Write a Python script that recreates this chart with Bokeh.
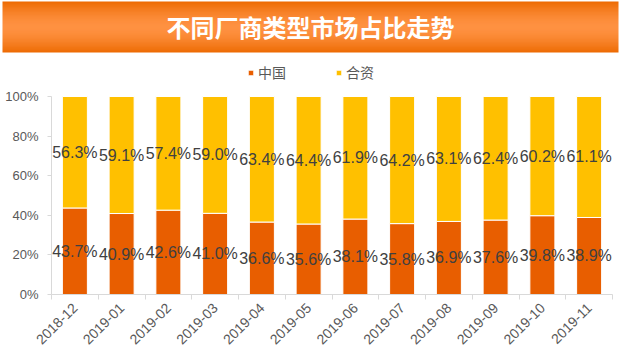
import math
import numpy as np
from bokeh.plotting import figure
from bokeh.layouts import column
from bokeh.models import (ColumnDataSource, Range1d, FixedTicker, NumeralTickFormatter,
                          Legend, LegendItem)
from bokeh.core.properties import value
from bokeh.embed import file_html
from bokeh.resources import INLINE

# ---- data ----
months = ["2018-12", "2019-01", "2019-02", "2019-03", "2019-04", "2019-05",
          "2019-06", "2019-07", "2019-08", "2019-09", "2019-10", "2019-11"]
china = [43.7, 40.9, 42.6, 41.0, 36.6, 35.6, 38.1, 35.8, 36.9, 37.6, 39.8, 38.9]
joint = [56.3, 59.1, 57.4, 59.0, 63.4, 64.4, 61.9, 64.2, 63.1, 62.4, 60.2, 61.1]
series_names = ["中国", "合资"]
title_text = "不同厂商类型市场占比走势"
y_ticks = [0, 0.2, 0.4, 0.6, 0.8, 1.0]

C_CN = "#E85E00"
C_JV = "#FFC000"
LABEL_FONT = "Liberation Sans"

# ---- title band ----
W = 620
TH = 54
tp = figure(width=W, height=TH, x_range=Range1d(0, W), y_range=Range1d(0, TH),
            toolbar_location=None, output_backend="svg", min_border=0,
            x_axis_location=None, y_axis_location=None)
tp.grid.visible = False
tp.outline_line_color = None
tp.background_fill_color = "white"
tp.border_fill_color = "white"

n = 64
t = np.linspace(0, 1, n)
k = 1 - np.abs(2 * t - 1) ** 1.6
edge = np.array([0xEE, 0x6C, 0x04], dtype=float)
center = np.array([0xFF, 0x92, 0x42], dtype=float)
cols = edge[None, :] + (center - edge)[None, :] * k[:, None]
img = np.zeros((n, 1), dtype=np.uint32)
view = img.view(dtype=np.uint8).reshape((n, 1, 4))
view[:, 0, 0] = cols[:, 0].astype(np.uint8)
view[:, 0, 1] = cols[:, 1].astype(np.uint8)
view[:, 0, 2] = cols[:, 2].astype(np.uint8)
view[:, 0, 3] = 255
tp.image_rgba(image=[img], x=2, y=2, dw=616, dh=51)
tp.text(x=[W / 2], y=[28], text=[title_text], text_color="white",
        text_font=value("Noto Sans CJK SC"), text_font_style="bold",
        text_font_size="24px", text_align="center", text_baseline="middle")

# ---- chart ----
N = len(months)
x = [i + 0.5 for i in range(N)]
cn = [v / 100 for v in china]
jv = [v / 100 for v in joint]
top_all = [a + b for a, b in zip(cn, jv)]
src = ColumnDataSource(dict(
    x=x, cn=cn, top=top_all,
    cn_mid=[a / 2 for a in cn],
    jv_mid=[a + b / 2 for a, b in zip(cn, jv)],
    cn_lab=[f"{v:.1f}%" for v in china],
    jv_lab=[f"{v:.1f}%" for v in joint],
))

LEFT, RIGHT = 51, 8
step = (W - LEFT - RIGHT) / N
CH = 353 - TH
TOP = 8
ZERO_Y = 294 - TH      # pixel row of 0% inside the chart figure
PX_PER_UNIT = 198.0    # pixels for 0% -> 100%
p = figure(width=W, height=CH, x_range=Range1d(-LEFT / step, N + RIGHT / step),
           y_range=Range1d(-(CH - ZERO_Y) / PX_PER_UNIT, (ZERO_Y - TOP) / PX_PER_UNIT),
           toolbar_location=None, output_backend="svg",
           min_border_left=0, min_border_right=0, min_border_top=TOP, min_border_bottom=0)
p.grid.visible = False
p.outline_line_color = None
p.background_fill_color = "white"

r1 = p.vbar(x="x", width=0.535, bottom=0, top="cn", source=src,
            fill_color=C_CN, line_color="white", line_width=1)
r2 = p.vbar(x="x", width=0.535, bottom="cn", top="top", source=src,
            fill_color=C_JV, line_color="white", line_width=1)

for ycol, tcol in (("cn_mid", "cn_lab"), ("jv_mid", "jv_lab")):
    p.text(x="x", y=ycol, text=tcol, source=src, text_color="#404040",
           text_font=value(LABEL_FONT), text_font_size="16px",
           text_align="center", text_baseline="middle")

# y axis (fixed at x = 0 inside the frame)
ya = p.yaxis[0]
ya.fixed_location = 0
ya.ticker = FixedTicker(ticks=y_ticks)
ya.formatter = NumeralTickFormatter(format="0%")
ya.bounds = (0, 1)
ya.axis_line_color = "#D9D9D9"
ya.major_tick_line_color = "#D9D9D9"
ya.major_tick_out = 4
ya.major_tick_in = 0
ya.minor_tick_line_color = None
ya.major_label_standoff = 9
ya.major_label_text_font = LABEL_FONT
ya.major_label_text_font_size = "13px"
ya.major_label_text_color = "#595959"

# x axis (fixed at y = 0 inside the frame)
xa = p.xaxis[0]
xa.fixed_location = 0
xa.ticker = FixedTicker(ticks=x, minor_ticks=list(range(N + 1)))
xa.major_label_overrides = {xx: m for xx, m in zip(x, months)}
xa.bounds = (0, N)
xa.axis_line_color = "#D9D9D9"
xa.major_tick_line_color = None
xa.minor_tick_line_color = "#D9D9D9"
xa.minor_tick_out = 5
xa.minor_tick_in = 0
xa.major_label_orientation = math.pi / 4
xa.major_label_standoff = 5
xa.major_label_text_font = LABEL_FONT
xa.major_label_text_font_size = "14px"
xa.major_label_text_color = "#595959"

legend = Legend(items=[LegendItem(label=series_names[0], renderers=[r1]),
                       LegendItem(label=series_names[1], renderers=[r2])],
                orientation="horizontal", location=(247, CH - 82 + TH),
                glyph_width=7, glyph_height=7, label_height=18, label_standoff=4,
                spacing=49, padding=0, margin=0,
                label_text_font="Noto Sans CJK SC", label_text_font_size="14px",
                label_text_color="#595959",
                border_line_color=None, background_fill_alpha=0)
p.add_layout(legend)

layout = column(tp, p, spacing=0)
open("out.html", "w").write(file_html(layout, INLINE))
